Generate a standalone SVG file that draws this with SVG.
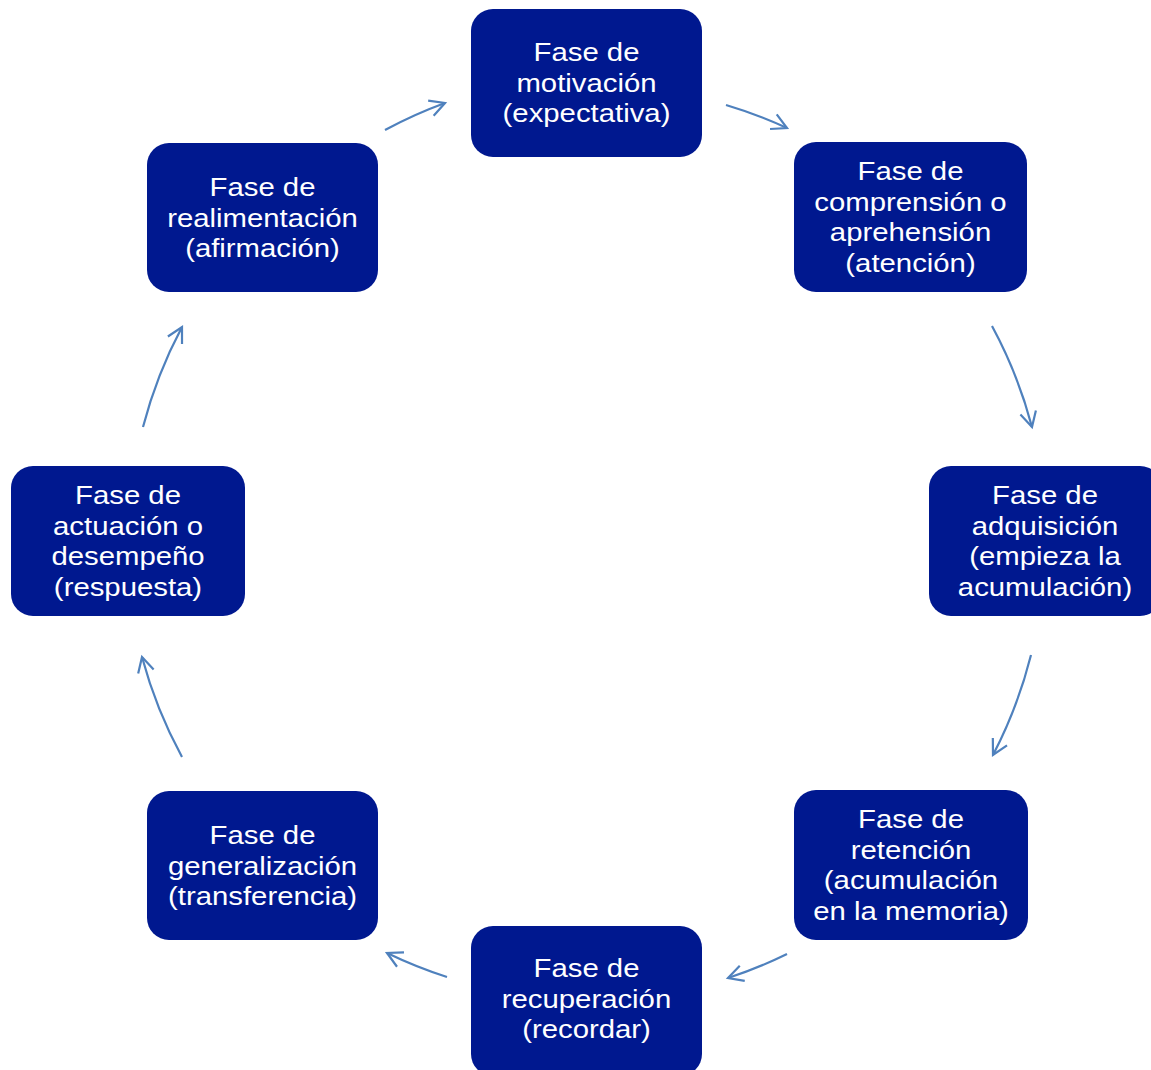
<svg xmlns="http://www.w3.org/2000/svg" width="1151" height="1070" viewBox="0 0 1151 1070">
<style>
.box{fill:#00188F;}
.t{font-family:"Liberation Sans",Arial,sans-serif;font-size:25.5px;fill:#FFFFFF;text-anchor:middle;}
.c{fill:none;stroke:#4F81BD;stroke-width:2.2;}
</style>
<defs>
<marker id="ah" markerUnits="userSpaceOnUse" markerWidth="22" markerHeight="22" viewBox="-18 -11 22 22" refX="0" refY="0" orient="auto">
<path d="M-15,-8 L0,0 L-15,8" fill="none" stroke="#4F81BD" stroke-width="2.2"/>
</marker>
</defs>
<rect width="1151" height="1070" fill="#FFFFFF"/>
<g id="connectors">
<path class="c" marker-end="url(#ah)" d="M385,130 A459,459 0 0 1 445,103"/>
<path class="c" marker-end="url(#ah)" d="M726,105 A459,459 0 0 1 787,128"/>
<path class="c" marker-end="url(#ah)" d="M992,326 A459,459 0 0 1 1032,427"/>
<path class="c" marker-end="url(#ah)" d="M1031,655 A459,459 0 0 1 993,755"/>
<path class="c" marker-end="url(#ah)" d="M787,954 A459,459 0 0 1 728,978"/>
<path class="c" marker-end="url(#ah)" d="M447,977 A459,459 0 0 1 387,953"/>
<path class="c" marker-end="url(#ah)" d="M182,757 A459,459 0 0 1 142,657"/>
<path class="c" marker-end="url(#ah)" d="M143,427 A459,459 0 0 1 182,327"/>
</g>
<g id="n1">
<rect class="box" x="471" y="9" width="231" height="148" rx="22"/>
<text class="t" transform="translate(586.5,1) scale(1.15,1)"><tspan x="0" y="60.5">Fase de</tspan><tspan x="0" y="91">motivación</tspan><tspan x="0" y="121.5">(expectativa)</tspan></text>
</g>
<g id="n2">
<rect class="box" x="794" y="142" width="233" height="150" rx="22"/>
<text class="t" transform="translate(910.5,1) scale(1.15,1)"><tspan x="0" y="179.5">Fase de</tspan><tspan x="0" y="210">comprensión o</tspan><tspan x="0" y="240.5">aprehensión</tspan><tspan x="0" y="271">(atención)</tspan></text>
</g>
<g id="n3">
<rect class="box" x="929" y="466" width="233" height="150" rx="22"/>
<text class="t" transform="translate(1045,1) scale(1.15,1)"><tspan x="0" y="503.5">Fase de</tspan><tspan x="0" y="534">adquisición</tspan><tspan x="0" y="564.5">(empieza la</tspan><tspan x="0" y="595">acumulación)</tspan></text>
</g>
<g id="n4">
<rect class="box" x="794" y="790" width="234" height="150" rx="22"/>
<text class="t" transform="translate(911,1) scale(1.15,1)"><tspan x="0" y="827.5">Fase de</tspan><tspan x="0" y="858">retención</tspan><tspan x="0" y="888.5">(acumulación</tspan><tspan x="0" y="919">en la memoria)</tspan></text>
</g>
<g id="n5">
<rect class="box" x="471" y="926" width="231" height="150" rx="22"/>
<text class="t" transform="translate(586.5,1) scale(1.15,1)"><tspan x="0" y="976.5">Fase de</tspan><tspan x="0" y="1007">recuperación</tspan><tspan x="0" y="1037.5">(recordar)</tspan></text>
</g>
<g id="n6">
<rect class="box" x="147" y="791" width="231" height="149" rx="22"/>
<text class="t" transform="translate(262.5,1) scale(1.15,1)"><tspan x="0" y="843.5">Fase de</tspan><tspan x="0" y="874">generalización</tspan><tspan x="0" y="904.5">(transferencia)</tspan></text>
</g>
<g id="n7">
<rect class="box" x="11" y="466" width="234" height="150" rx="22"/>
<text class="t" transform="translate(128,1) scale(1.15,1)"><tspan x="0" y="503.5">Fase de</tspan><tspan x="0" y="534">actuación o</tspan><tspan x="0" y="564.5">desempeño</tspan><tspan x="0" y="595">(respuesta)</tspan></text>
</g>
<g id="n8">
<rect class="box" x="147" y="143" width="231" height="149" rx="22"/>
<text class="t" transform="translate(262.5,1) scale(1.15,1)"><tspan x="0" y="195.5">Fase de</tspan><tspan x="0" y="226">realimentación</tspan><tspan x="0" y="256.5">(afirmación)</tspan></text>
</g>
</svg>
